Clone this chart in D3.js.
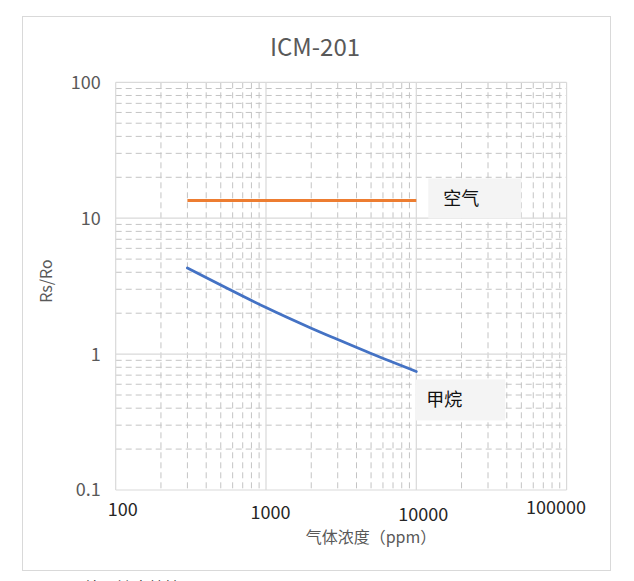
<!DOCTYPE html>
<html>
<head>
<meta charset="utf-8">
<script src="https://cdn.jsdelivr.net/npm/d3@7"></script>
<style>
  body { margin: 0; background: #fff; }
  svg { display: block; font-family: "Noto Sans CJK SC", "Noto Sans", sans-serif; }
</style>
</head>
<body>
<script>
// Chart values
const chartTitle = "ICM-201";
const xTitle = "气体浓度（ppm）";
const yTitle = "Rs/Ro";
const xTicks = [100, 1000, 10000, 100000];
const yTicks = [0.1, 1, 10, 100];
const airConc = [300, 10000];
const airRatio = [13.5, 13.5];
const methaneConc = [300, 1000, 2000, 3000, 5000, 10000];
const methaneRatio = [4.3, 2.2, 1.55, 1.28, 1.01, 0.745];
const seriesNames = ["空气", "甲烷"];

const width = 634, height = 581;
const plot = { left: 115.7, right: 566.6, top: 82.3, bottom: 490 };

const svg = d3.select("body").append("svg")
  .attr("width", width)
  .attr("height", height);

// Chart frame
svg.append("rect")
  .attr("x", 22.5).attr("y", 16.5)
  .attr("width", 588).attr("height", 554)
  .attr("fill", "#fff").attr("stroke", "#d9d9d9");

const x = d3.scaleLog().domain([100, 100000]).range([plot.left, plot.right]);
const y = d3.scaleLog().domain([0.1, 100]).range([plot.bottom, plot.top]);

// Minor values inside each decade (2..9)
const minorX = [];
xTicks.slice(0, -1).forEach(d => { for (let k = 2; k <= 9; k++) minorX.push(d * k); });
const minorY = [];
yTicks.slice(0, -1).forEach(d => { for (let k = 2; k <= 9; k++) minorY.push(d * k); });

const grid = svg.append("g");

grid.selectAll(".minor-x").data(minorX).enter().append("line")
  .attr("x1", d => x(d)).attr("x2", d => x(d))
  .attr("y1", plot.top).attr("y2", plot.bottom)
  .attr("stroke", "#c4c4c4").attr("stroke-dasharray", "6,4");

grid.selectAll(".minor-y").data(minorY).enter().append("line")
  .attr("x1", plot.left).attr("x2", plot.right)
  .attr("y1", d => y(d)).attr("y2", d => y(d))
  .attr("stroke", "#c4c4c4").attr("stroke-dasharray", "6,4");

grid.selectAll(".major-x").data(xTicks).enter().append("line")
  .attr("x1", d => x(d)).attr("x2", d => x(d))
  .attr("y1", plot.top).attr("y2", plot.bottom)
  .attr("stroke", "#d9d9d9").attr("stroke-width", 1.2);

grid.selectAll(".major-y").data(yTicks).enter().append("line")
  .attr("x1", plot.left).attr("x2", plot.right)
  .attr("y1", d => y(d)).attr("y2", d => y(d))
  .attr("stroke", "#d9d9d9").attr("stroke-width", 1.2);

// Series lines (smoothed like the spreadsheet's curved scatter lines)
const line = d3.line()
  .x(d => x(d[0]))
  .y(d => y(d[1]))
  .curve(d3.curveCatmullRom.alpha(0.5));

svg.append("path")
  .datum(d3.zip(airConc, airRatio))
  .attr("d", line)
  .attr("fill", "none")
  .attr("stroke", "#ed7d31")
  .attr("stroke-width", 2.8);

svg.append("path")
  .datum(d3.zip(methaneConc, methaneRatio))
  .attr("d", line)
  .attr("fill", "none")
  .attr("stroke", "#4472c4")
  .attr("stroke-width", 2.8)
  .attr("stroke-linecap", "round");

// Y tick labels
svg.selectAll(".ytick").data(yTicks).enter().append("text")
  .attr("x", plot.left - 15)
  .attr("y", d => y(d))
  .attr("dy", "0.36em")
  .attr("text-anchor", "end")
  .attr("fill", "#595959")
  .attr("font-size", 18)
  .text(d => d);

// X tick labels: the reference places them slightly staggered
const xNudge = [[7, 20], [4.5, 23], [7, 25], [-10.5, 18]];
svg.selectAll(".xtick").data(xTicks).enter().append("text")
  .attr("x", (d, i) => x(d) + xNudge[i][0])
  .attr("y", (d, i) => plot.bottom + xNudge[i][1])
  .attr("dy", "0.36em")
  .attr("text-anchor", "middle")
  .attr("fill", "#262626")
  .attr("font-size", 18)
  .text(d => d);

// Titles
svg.append("text")
  .attr("x", 315).attr("y", 47)
  .attr("dy", "0.36em")
  .attr("text-anchor", "middle")
  .attr("fill", "#595959")
  .attr("font-size", 24)
  .text(chartTitle);

svg.append("text")
  .attr("x", 371).attr("y", 537)
  .attr("dy", "0.36em")
  .attr("text-anchor", "middle")
  .attr("fill", "#595959")
  .attr("font-size", 16)
  .text(xTitle);

svg.append("text")
  .attr("transform", "translate(46,281) rotate(-90)")
  .attr("dy", "0.36em")
  .attr("text-anchor", "middle")
  .attr("fill", "#595959")
  .attr("font-size", 16)
  .text(yTitle);

// Series name boxes next to line ends
const labelSpots = [
  { name: seriesNames[0], px: airConc[1], py: airRatio[1], dx: 12, dy: -22, w: 93, h: 40, tx: 15 },
  { name: seriesNames[1], px: methaneConc[5], py: methaneRatio[5], dx: -1, dy: 8, w: 90, h: 41, tx: 11 }
];
const tags = svg.selectAll(".tag").data(labelSpots).enter().append("g")
  .attr("transform", d => `translate(${x(d.px) + d.dx},${y(d.py) + d.dy})`);
tags.append("rect")
  .attr("width", d => d.w).attr("height", d => d.h)
  .attr("fill", "#f4f4f4");
tags.append("text")
  .attr("x", d => d.tx)
  .attr("y", d => d.h / 2)
  .attr("dy", "0.36em")
  .attr("fill", "#111")
  .attr("font-size", 18)
  .text(d => d.name);

// Caption cut off by the bottom edge, as in the reference
svg.append("text")
  .attr("x", 40).attr("y", 594)
  .attr("fill", "#111")
  .attr("font-size", 16)
  .text("图5 甲烷灵敏度特性");
</script>
</body>
</html>
